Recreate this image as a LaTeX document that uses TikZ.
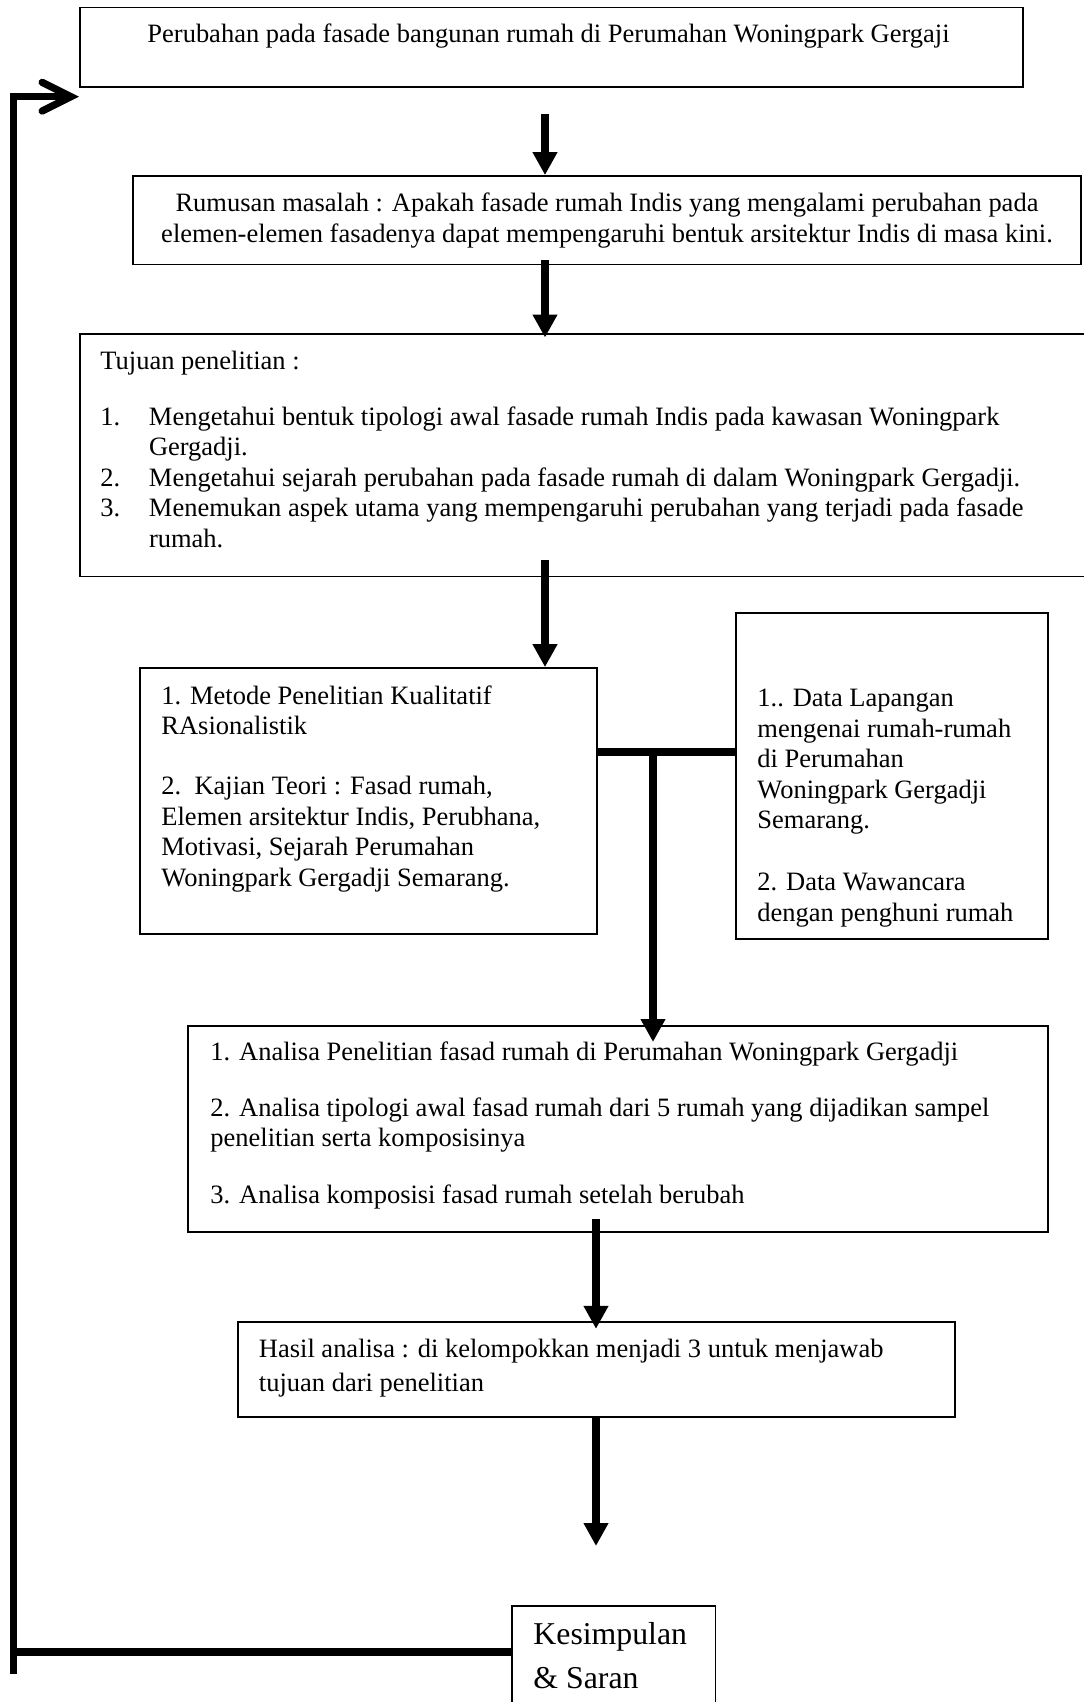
\documentclass[tikz,border=0pt]{standalone}
\usepackage{fontspec}
\setmainfont{Liberation Serif}
\usetikzlibrary{arrows.meta,fit}

\tikzset{
  box/.style={draw, line width=0.8pt, inner sep=0pt},
  txt/.style={anchor=base west, inner sep=0pt, align=left, font=\fontsize{12}{13.8}\selectfont},
  link/.style={line width=3.3pt},
  flow/.style={link, -{Triangle[length=10.4pt,width=10.6pt]}},
  back/.style={link, line join=miter, -{Straight Barb[length=13pt,width=13pt,line cap=round]}}
}

\begin{document}
\begin{tikzpicture}[x=0.453pt,y=0.453pt,yscale=-1,xscale=1]
\useasboundingbox (0,0) rectangle (1084,1702);

% boxes
\node[box, fit={(80,7.5) (1023,87)}] (perubahan) {};
\node[box, fit={(133,176) (1081,264.5)}] (rumusan) {};
\node[box, fit={(80,334) (1100,576.5)}] (tujuan) {};
\node[box, fit={(140,668) (597,934)}] (metode) {};
\node[box, fit={(736,613) (1048,939)}] (data) {};
\node[box, fit={(188,1026) (1048,1232)}] (analisa) {};
\node[box, fit={(238,1322) (955,1417)}] (hasil) {};
\node[box, fit={(512,1606) (715.5,1730)}] (kesimpulan) {};

% texts (multi-line nodes sit on the baseline of their last line)
\node[txt] (tperubahan) at (147,43) {Perubahan pada fasade bangunan rumah di Perumahan Woningpark Gergaji};
\node[txt, anchor=base, align=center, font=\fontsize{12}{14}\selectfont] (trumusan) at (607,242) {Rumusan masalah : Apakah fasade rumah Indis yang mengalami perubahan pada\\elemen-elemen fasadenya dapat mempengaruhi bentuk arsitektur Indis di masa kini.};
\node[txt] (ttujuan) at (100,547) {Tujuan penelitian :\\[11.6pt]
\makebox[22pt][l]{1.}Mengetahui bentuk tipologi awal fasade rumah Indis pada kawasan Woningpark\\
\hspace*{22pt}Gergadji.\\
\makebox[22pt][l]{2.}Mengetahui sejarah perubahan pada fasade rumah di dalam Woningpark Gergadji.\\
\makebox[22pt][l]{3.}Menemukan aspek utama yang mempengaruhi perubahan yang terjadi pada fasade\\
\hspace*{22pt}rumah.};
\node[txt] (tmetode) at (161,886) {1. Metode Penelitian Kualitatif\\RAsionalistik\\[13.4pt]
2.\ \ Kajian Teori : Fasad rumah,\\Elemen arsitektur Indis, Perubhana,\\Motivasi, Sejarah Perumahan\\Woningpark Gergadji Semarang.};
\node[txt] (tdata) at (757,921) {1.. Data Lapangan\\mengenai rumah-rumah\\di Perumahan\\Woningpark Gergadji\\Semarang.\\[14.3pt]
2. Data Wawancara\\dengan penghuni rumah};
\node[txt] (tanalisa) at (210,1203) {1. Analisa Penelitian fasad rumah di Perumahan Woningpark Gergadji\\[11.6pt]
2. Analisa tipologi awal fasad rumah dari 5 rumah yang dijadikan sampel\\penelitian serta komposisinya\\[11.6pt]
3. Analisa komposisi fasad rumah setelah berubah};
\node[txt, font=\fontsize{12}{15.4}\selectfont] (thasil) at (258.5,1391) {Hasil analisa : di kelompokkan menjadi 3 untuk menjawab\\tujuan dari penelitian};
\node[txt, font=\fontsize{14.4}{19.5}\selectfont] (tkesimpulan) at (533,1688) {Kesimpulan\\\& Saran};

% connectors
\coordinate (a1) at (545,114);
\coordinate (a2) at (545,260);
\coordinate (a3) at (545,560);
\coordinate (jn) at (653,752);
\coordinate (jtip) at (653,1042);
\coordinate (a4) at (596,1219);
\coordinate (a5) at (596,1546);
\coordinate (fbk) at (13.8,1652);
\coordinate (lb) at (13.8,1674);
\coordinate (fbtip) at (79,96.7);

\draw[flow] (a1) -- (a1 |- rumusan.north);
\draw[flow, shorten >=-2pt] (a2) -- (a2 |- tujuan.north);
\draw[flow] (a3) -- (a3 |- metode.north);
\draw[link] (metode.east |- jn) -- (data.west |- jn);
\draw[flow] (jn) -- (jtip);
\draw[flow, shorten >=-3.5pt] (a4) -- (a4 |- hasil.north);
\draw[flow] (a4 |- hasil.south) -- (a5);
\draw[link] (fbk -| kesimpulan.west) -- (fbk);
\draw[back] (lb) -- (lb |- fbtip) -- (fbtip);

\end{tikzpicture}
\end{document}
